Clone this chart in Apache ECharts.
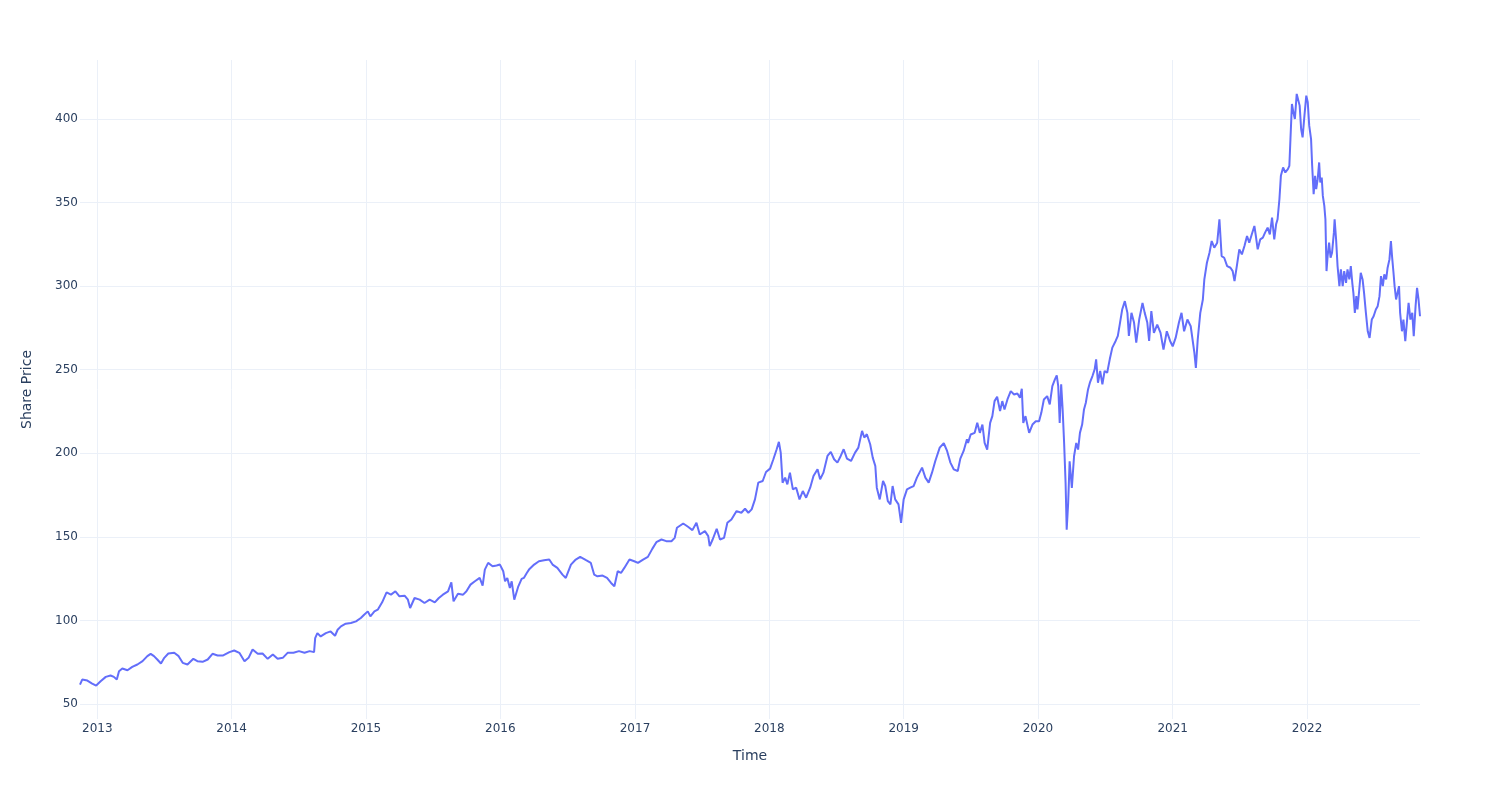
<!DOCTYPE html>
<html>
<head>
<meta charset="utf-8">
<script src="https://cdn.jsdelivr.net/npm/echarts@6/dist/echarts.min.js"></script>
<style>html,body{margin:0;padding:0;background:#fff}#c{width:1500px;height:800px}</style>
</head>
<body>
<div id="c"></div>
<script>
const dates = [
'2012-11-15','2012-11-21','2012-12-05','2012-12-18','2012-12-29','2013-01-10','2013-01-24','2013-02-06','2013-02-15','2013-02-23',
'2013-03-01','2013-03-10','2013-03-24','2013-04-06','2013-04-20','2013-05-04','2013-05-17','2013-05-26','2013-06-04','2013-06-13',
'2013-06-23','2013-07-02','2013-07-13','2013-07-29','2013-08-10','2013-08-21','2013-09-03','2013-09-19','2013-09-30','2013-10-14',
'2013-10-28','2013-11-10','2013-11-24','2013-12-09','2013-12-26','2014-01-08','2014-01-22','2014-02-05','2014-02-16','2014-02-27',
'2014-03-13','2014-03-26','2014-04-09','2014-04-23','2014-05-06','2014-05-20','2014-06-02','2014-06-18','2014-07-03','2014-07-18',
'2014-08-01','2014-08-13','2014-08-16','2014-08-22','2014-08-31','2014-09-14','2014-09-27','2014-10-09','2014-10-16','2014-10-25',
'2014-11-07','2014-11-21','2014-12-05','2014-12-18','2014-12-27','2015-01-06','2015-01-13','2015-01-24','2015-02-02','2015-02-14',
'2015-02-26','2015-03-10','2015-03-22','2015-04-02','2015-04-16','2015-04-25','2015-05-01','2015-05-13','2015-05-27','2015-06-09',
'2015-06-23','2015-07-07','2015-07-18','2015-07-29','2015-08-12','2015-08-21','2015-08-27','2015-09-08','2015-09-22','2015-10-01',
'2015-10-12','2015-10-24','2015-11-06','2015-11-14','2015-11-20','2015-11-29','2015-12-11','2015-12-22','2015-12-31','2016-01-09',
'2016-01-14','2016-01-20','2016-01-27','2016-02-01','2016-02-08','2016-02-19','2016-02-28','2016-03-05','2016-03-13','2016-03-19',
'2016-04-02','2016-04-15','2016-04-29','2016-05-13','2016-05-22','2016-06-04','2016-06-18','2016-06-27','2016-07-11','2016-07-24',
'2016-08-05','2016-08-21','2016-09-03','2016-09-12','2016-09-21','2016-10-05','2016-10-17','2016-10-28','2016-11-06','2016-11-15',
'2016-11-24','2016-12-03','2016-12-17','2016-12-30','2017-01-09','2017-01-23','2017-02-05','2017-02-17','2017-02-28','2017-03-14',
'2017-03-27','2017-04-10','2017-04-19','2017-04-25','2017-05-12','2017-05-25','2017-06-06','2017-06-17','2017-06-26','2017-07-10',
'2017-07-19','2017-07-23','2017-07-31','2017-08-11','2017-08-20','2017-08-31','2017-09-09','2017-09-20','2017-10-04','2017-10-17',
'2017-10-27','2017-11-05','2017-11-14','2017-11-23','2017-12-02','2017-12-14','2017-12-23','2018-01-03','2018-01-12','2018-01-21',
'2018-01-27','2018-02-01','2018-02-06','2018-02-13','2018-02-19','2018-02-26','2018-03-06','2018-03-15','2018-03-24','2018-04-02',
'2018-04-11','2018-04-22','2018-05-01','2018-05-12','2018-05-19','2018-05-28','2018-06-08','2018-06-17','2018-06-26','2018-07-05',
'2018-07-14','2018-07-22','2018-07-31','2018-08-11','2018-08-22','2018-08-31','2018-09-10','2018-09-16','2018-09-23','2018-10-02',
'2018-10-09','2018-10-16','2018-10-20','2018-10-28','2018-11-06','2018-11-12','2018-11-19','2018-11-26','2018-12-02','2018-12-09',
'2018-12-18','2018-12-25','2019-01-01','2019-01-10','2019-01-19','2019-01-28','2019-02-06','2019-02-20','2019-03-01','2019-03-10',
'2019-03-19','2019-03-28','2019-04-09','2019-04-20','2019-04-29','2019-05-08','2019-05-17','2019-05-28','2019-06-04','2019-06-13',
'2019-06-22','2019-06-25','2019-07-02','2019-07-13','2019-07-20','2019-07-27','2019-08-03','2019-08-09','2019-08-16','2019-08-24',
'2019-08-30','2019-09-05','2019-09-12','2019-09-20','2019-09-26','2019-10-02','2019-10-10','2019-10-19','2019-10-28','2019-11-06',
'2019-11-13','2019-11-18','2019-11-22','2019-11-28','2019-12-08','2019-12-17','2019-12-26','2020-01-04','2020-01-10','2020-01-17',
'2020-01-26','2020-02-02','2020-02-09','2020-02-16','2020-02-21','2020-02-25','2020-02-29','2020-03-04','2020-03-08','2020-03-12',
'2020-03-16','2020-03-19','2020-03-23','2020-03-27','2020-04-02','2020-04-08','2020-04-14','2020-04-19','2020-04-24','2020-04-30',
'2020-05-05','2020-05-10','2020-05-16','2020-05-21','2020-05-28','2020-06-03','2020-06-07','2020-06-12','2020-06-18','2020-06-24',
'2020-06-30','2020-07-07','2020-07-14','2020-07-21','2020-07-30','2020-08-05','2020-08-11','2020-08-17','2020-08-24','2020-08-31',
'2020-09-04','2020-09-11','2020-09-18','2020-09-24','2020-10-02','2020-10-11','2020-10-17','2020-10-24','2020-10-29','2020-11-04',
'2020-11-11','2020-11-20','2020-11-29','2020-12-07','2020-12-16','2020-12-25','2021-01-01','2021-01-09','2021-01-18','2021-01-25',
'2021-02-01','2021-02-10','2021-02-19','2021-02-24','2021-03-01','2021-03-05','2021-03-10','2021-03-17','2021-03-24','2021-03-28',
'2021-04-04','2021-04-11','2021-04-17','2021-04-24','2021-05-02','2021-05-08','2021-05-14','2021-05-21','2021-05-29','2021-06-07',
'2021-06-13','2021-06-18','2021-06-25','2021-07-01','2021-07-08','2021-07-15','2021-07-22','2021-07-28','2021-08-04','2021-08-11',
'2021-08-15','2021-08-20','2021-08-27','2021-09-03','2021-09-09','2021-09-16','2021-09-22','2021-09-28','2021-10-04','2021-10-09',
'2021-10-13','2021-10-18','2021-10-22','2021-10-28','2021-11-03','2021-11-10','2021-11-14','2021-11-17','2021-11-21','2021-11-25',
'2021-11-29','2021-12-04','2021-12-09','2021-12-12','2021-12-16','2021-12-20','2021-12-25','2021-12-30','2022-01-03','2022-01-07',
'2022-01-12','2022-01-15','2022-01-19','2022-01-23','2022-01-26','2022-01-30','2022-02-03','2022-02-06','2022-02-10','2022-02-13',
'2022-02-17','2022-02-20','2022-02-23','2022-02-26','2022-03-02','2022-03-06','2022-03-10','2022-03-15','2022-03-17','2022-03-21',
'2022-03-25','2022-03-30','2022-04-03','2022-04-08','2022-04-12','2022-04-17','2022-04-21','2022-04-26','2022-04-30','2022-05-04',
'2022-05-07','2022-05-11','2022-05-15','2022-05-18','2022-05-23','2022-05-27','2022-06-01','2022-06-05','2022-06-10','2022-06-15',
'2022-06-20','2022-06-26','2022-07-01','2022-07-07','2022-07-12','2022-07-17','2022-07-21','2022-07-26','2022-07-30','2022-08-04',
'2022-08-08','2022-08-13','2022-08-17','2022-08-20','2022-08-24','2022-08-27','2022-08-31','2022-09-04','2022-09-08','2022-09-11',
'2022-09-16','2022-09-20','2022-09-25','2022-09-30','2022-10-04','2022-10-09','2022-10-14','2022-10-18','2022-10-23','2022-10-27',
'2022-10-31','2022-11-04'
];
const prices = [
61.6,64.6,64.0,62.2,61.0,63.6,66.2,67.0,66.2,64.6,
69.6,71.2,70.2,72.2,73.6,75.6,78.6,80.0,78.6,76.6,
74.2,77.6,80.2,80.6,78.6,74.6,73.6,77.0,75.6,75.2,
76.6,80.0,79.0,79.0,81.0,82.0,80.6,75.6,77.6,82.6,
80.0,80.2,77.0,79.6,77.0,77.6,80.6,80.6,81.6,80.6,
81.6,81.0,89.4,92.4,90.4,92.4,93.4,90.8,94.4,96.4,
98.0,98.4,99.4,101.4,103.4,105.4,102.4,105.4,106.4,110.8,
116.8,115.4,117.4,114.4,114.8,112.4,107.4,113.4,112.4,110.4,
112.4,110.8,113.4,115.4,117.4,122.8,111.4,116.0,115.4,117.4,
121.4,123.4,125.4,120.8,130.4,134.4,132.4,132.8,133.4,129.4,
123.4,125.4,119.4,123.4,112.4,120.4,124.8,125.4,128.4,130.4,
133.4,135.4,136.0,136.4,133.4,131.4,127.4,125.4,133.4,136.4,
138.0,136.0,134.4,127.4,126.4,126.8,125.4,122.4,120.4,129.4,
128.4,131.4,136.4,135.4,134.4,136.4,138.0,142.8,146.8,148.4,
147.4,147.4,149.4,155.4,158.0,156.0,154.0,158.4,151.4,153.4,
150.4,144.4,148.4,154.8,148.4,149.4,158.4,160.4,165.4,164.4,
166.8,164.4,166.4,172.4,182.4,183.4,188.8,190.8,196.4,202.4,
206.8,200.4,182.4,185.4,181.4,188.4,178.4,179.4,172.4,177.4,
173.4,179.4,186.4,190.4,184.4,188.4,198.4,200.8,196.4,194.4,
198.4,202.4,196.8,195.4,200.4,203.4,213.4,209.4,211.4,205.4,
197.4,192.4,179.4,172.4,183.4,180.4,171.4,169.4,180.4,172.4,
169.4,158.4,172.4,178.4,179.4,180.4,185.4,191.4,185.4,182.4,
188.4,195.4,203.4,206.0,201.4,194.4,190.4,189.4,196.8,201.4,
208.4,206.2,211.2,212.2,218.2,212.2,217.2,206.2,202.2,218.2,
222.2,231.2,233.8,225.2,231.2,226.2,232.2,237.2,235.2,235.8,
233.2,238.6,218.2,222.2,212.2,217.2,219.2,219.2,224.2,232.2,
234.2,229.2,240.2,244.2,246.6,240.2,218.2,241.2,226.2,206.2,
182.2,154.2,170.2,195.2,179.2,198.2,206.2,202.2,212.2,217.2,
226.2,230.2,238.2,242.2,246.2,250.2,256.2,242.2,249.2,241.2,
249.2,248.2,256.2,263.2,267.2,270.2,278.2,286.2,291.0,284.0,
270.2,284.0,278.2,266.2,280.0,290.0,284.0,278.2,267.2,285.0,
272.0,277.0,272.0,262.0,273.0,267.2,264.0,269.0,278.2,284.0,
273.0,280.0,276.0,276.0,260.0,251.0,268.0,284.0,292.0,304.0,
314.0,320.0,327.0,323.0,326.0,340.0,318.0,317.0,312.0,311.0,
309.0,303.0,313.0,322.0,319.0,324.0,330.0,326.0,331.0,336.0,
330.0,322.0,328.0,329.0,332.0,335.0,331.0,341.0,328.0,337.0,
340.0,352.0,366.0,371.0,368.0,370.0,372.0,388.0,409.0,404.0,
400.0,415.0,416.0,408.0,394.0,389.0,402.0,414.0,410.0,396.0,
388.0,372.0,355.0,366.0,358.0,364.0,374.0,362.0,365.0,354.0,
348.0,340.0,309.0,318.0,326.0,317.0,320.0,332.0,340.0,328.0,
312.0,300.0,310.0,300.0,309.0,302.0,310.0,304.0,312.0,302.0,
296.0,284.0,294.0,286.0,298.0,308.0,304.0,296.0,284.0,273.0,
269.0,280.0,282.0,286.0,288.0,294.0,306.0,300.0,307.0,304.0,
311.0,316.0,327.0,318.0,308.0,300.0,292.0,296.0,300.0,284.0,
273.0,280.0,267.0,280.0,290.0,280.0,284.0,270.0,288.0,299.0,
292.0,282.0
];
const yTickLabels = ['50','100','150','200','250','300','350','400'];
const xTickLabels = ['2013','2014','2015','2016','2017','2018','2019','2020','2021','2022'];

const txt = '#2a3f5f', grid = '#EBF0F8';
const font = '"DejaVu Sans", Verdana, sans-serif';
const chart = echarts.init(document.getElementById('c'), null, {renderer: 'canvas'});
chart.setOption({
  animation: false,
  backgroundColor: '#fff',
  grid: {left: 80, right: 80, top: 60, bottom: 81, containLabel: false},
  xAxis: {
    type: 'time',
    min: dates[0], max: dates[dates.length - 1],
    splitNumber: 10,
    minInterval: 365 * 86400000,
    name: 'Time', nameLocation: 'middle', nameGap: 30,
    nameTextStyle: {color: txt, fontSize: 14, fontFamily: font},
    axisLine: {show: false}, axisTick: {show: false},
    axisLabel: {
      color: txt, fontSize: 12, fontFamily: font, margin: 4,
      showMinLabel: false, showMaxLabel: false,
      formatter: function (v) {
        const d = new Date(v);
        const y = String(d.getFullYear());
        return (d.getMonth() === 0 && d.getDate() === 1 && xTickLabels.indexOf(y) >= 0) ? y : '';
      }
    },
    splitLine: {show: true, showMinLine: false, showMaxLine: false, lineStyle: {color: grid, width: 1}}
  },
  yAxis: {
    type: 'value',
    min: 41, max: 435.3, splitNumber: 8,
    name: 'Share Price', nameLocation: 'middle', nameGap: 46, nameRotate: 90,
    nameTextStyle: {color: txt, fontSize: 14, fontFamily: font},
    axisLine: {show: false}, axisTick: {show: false},
    axisLabel: {
      color: txt, fontSize: 12, fontFamily: font, margin: 2,
      showMinLabel: false, showMaxLabel: false,
      formatter: function (v) { const s = String(Math.round(v)); return yTickLabels.indexOf(s) >= 0 && Math.abs(v - Math.round(v)) < 1e-6 ? s : ''; }
    },
    splitLine: {show: true, showMinLine: false, showMaxLine: false, lineStyle: {color: grid, width: 1}}
  },
  series: [{
    type: 'line',
    data: dates.map((d, i) => [d, prices[i]]),
    showSymbol: false,
    lineStyle: {color: '#636efa', width: 2},
    itemStyle: {color: '#636efa'}
  }]
});
</script>
</body>
</html>
